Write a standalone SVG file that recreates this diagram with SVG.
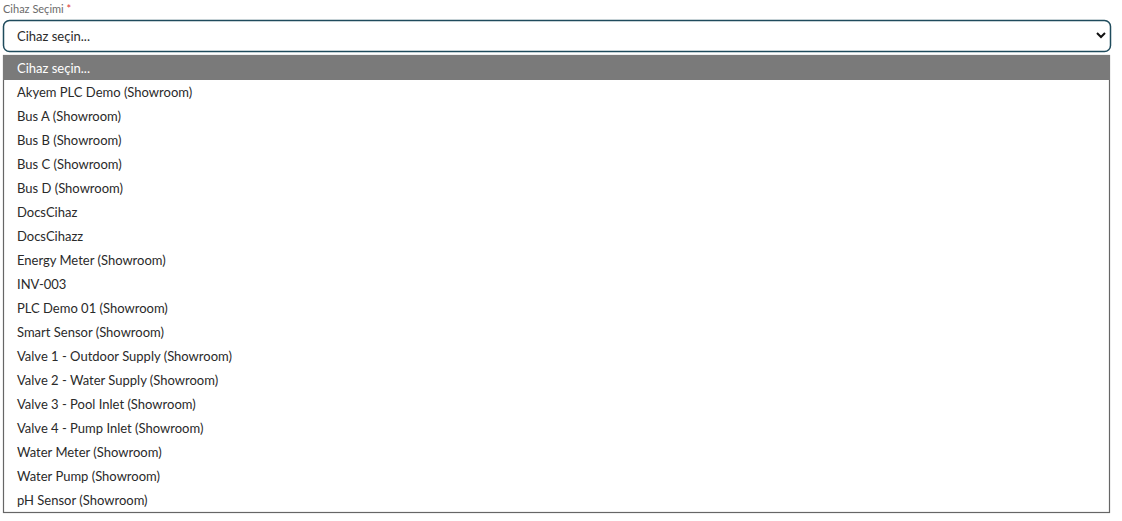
<svg xmlns="http://www.w3.org/2000/svg" width="1122" height="521" viewBox="0 0 1122 521">
<style>
text{font-family:"Lato","Liberation Sans",sans-serif;}
.opt{font-size:13px;fill:#2a2a2a;}
.sel{font-size:13px;fill:#2a2a2a;}
.lbl{font-size:11px;fill:#6b6b6b;}
</style>
<rect width="1122" height="521" fill="#fff"/>
<g id="label">
<text class="lbl" x="3" y="13">Cihaz Seçimi <tspan fill="#d33">*</tspan></text>
</g>
<g id="select">
<rect x="3.5" y="20.5" width="1107" height="31" rx="6" fill="#fff" stroke="#1f4b5c" stroke-width="1.5"/>
<text class="sel" x="17" y="41">Cihaz seçin...</text>
<path d="M1097 33 L1101 37 L1105 33" fill="none" stroke="#111" stroke-width="2"/>
</g>
<g id="list">
<rect x="3.5" y="55.5" width="1106" height="457" fill="#fff" stroke="#666" stroke-width="1.2"/>
<rect x="3" y="55" width="1107" height="25" fill="#7a7a7a"/>
<text class="opt" x="17" y="73" style="fill:#fff">Cihaz seçin...</text>
<text class="opt" x="17" y="97">Akyem PLC Demo (Showroom)</text>
<text class="opt" x="17" y="121">Bus A (Showroom)</text>
<text class="opt" x="17" y="145">Bus B (Showroom)</text>
<text class="opt" x="17" y="169">Bus C (Showroom)</text>
<text class="opt" x="17" y="193">Bus D (Showroom)</text>
<text class="opt" x="17" y="217">DocsCihaz</text>
<text class="opt" x="17" y="241">DocsCihazz</text>
<text class="opt" x="17" y="265">Energy Meter (Showroom)</text>
<text class="opt" x="17" y="289">INV-003</text>
<text class="opt" x="17" y="313">PLC Demo 01 (Showroom)</text>
<text class="opt" x="17" y="337">Smart Sensor (Showroom)</text>
<text class="opt" x="17" y="361">Valve 1 - Outdoor Supply (Showroom)</text>
<text class="opt" x="17" y="385">Valve 2 - Water Supply (Showroom)</text>
<text class="opt" x="17" y="409">Valve 3 - Pool Inlet (Showroom)</text>
<text class="opt" x="17" y="433">Valve 4 - Pump Inlet (Showroom)</text>
<text class="opt" x="17" y="457">Water Meter (Showroom)</text>
<text class="opt" x="17" y="481">Water Pump (Showroom)</text>
<text class="opt" x="17" y="505">pH Sensor (Showroom)</text>
</g>
</svg>
